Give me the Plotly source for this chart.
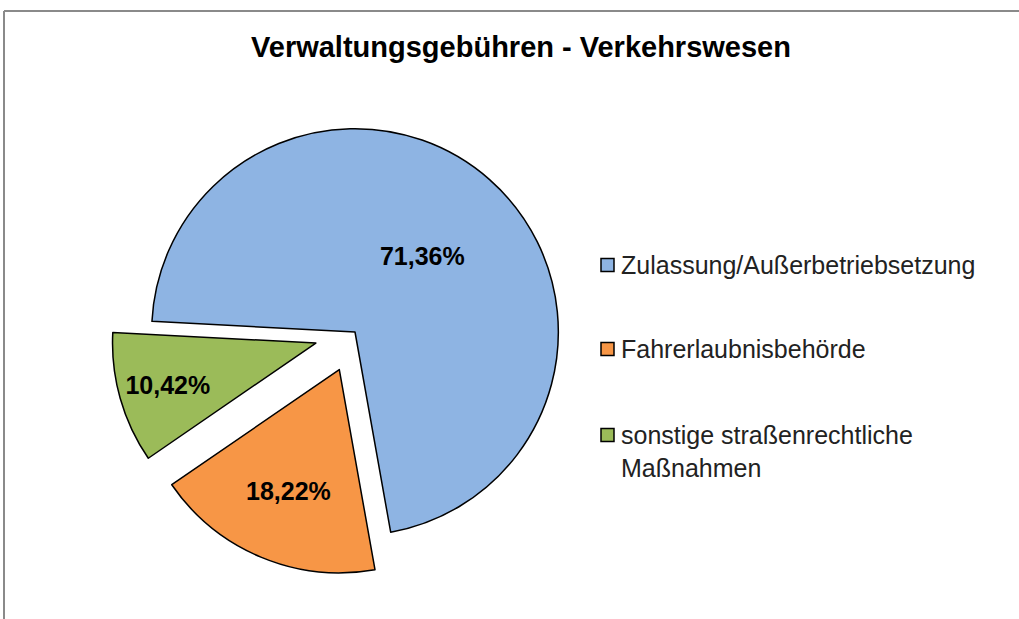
import plotly.graph_objects as go

labels = ["Zulassung/Außerbetriebsetzung", "Fahrerlaubnisbehörde", "sonstige straßenrechtliche<br>Maßnahmen"]
values = [71.36, 18.22, 10.42]
colors = ["#8EB4E3", "#F79646", "#9BBB59"]
pulls = [0, 0.2, 0.2]

W, H = 1019, 619
texts = [f"{v:.2f}".replace(".", ",") + "%" for v in values]

fig = go.Figure(go.Pie(
    labels=labels,
    values=values,
    text=texts,
    textinfo="text",
    textposition="inside",
    insidetextorientation="horizontal",
    textfont=dict(family="Liberation Sans", size=25, color="black", weight="bold"),
    marker=dict(colors=colors, line=dict(color="black", width=1.5)),
    pull=pulls,
    sort=False,
    direction="clockwise",
    rotation=273,
    domain=dict(x=[111 / W, 599 / W], y=[43 / H, 531 / H]),
    hoverinfo="skip",
    showlegend=False,
))

# manual legend (keeps the Excel-like spacing)
legend_y = [265, 349, 435]
shapes = [
    dict(type="line", xref="paper", yref="paper", x0=4 / W, x1=1, y0=1 - 11 / H, y1=1 - 11 / H,
         line=dict(color="#8a8a8a", width=2)),
    dict(type="line", xref="paper", yref="paper", x0=4 / W, x1=4 / W, y0=0, y1=1 - 11 / H,
         line=dict(color="#8a8a8a", width=2)),
]
annotations = []
for lab, col, yc in zip(labels, colors, legend_y):
    shapes.append(dict(type="rect", xref="paper", yref="paper",
                       x0=601 / W, x1=614 / W, y0=1 - (yc - 6.5) / H, y1=1 - (yc + 6.5) / H,
                       fillcolor=col, line=dict(color="black", width=1.5)))
    annotations.append(dict(text=lab, xref="paper", yref="paper", x=619 / W, y=1 - (yc - 16.5) / H,
                            xanchor="left", yanchor="top", align="left", showarrow=False,
                            font=dict(family="Liberation Sans", size=25, color="#222")))

fig.update_layout(
    width=W, height=H,
    margin=dict(l=0, r=0, t=0, b=0),
    paper_bgcolor="white",
    plot_bgcolor="white",
    title=dict(text="<b>Verwaltungsgebühren - Verkehrswesen</b>", x=521 / W, xanchor="center",
               y=1 - 47 / H, yanchor="middle",
               font=dict(family="Liberation Sans", size=29, color="black")),
    shapes=shapes,
    annotations=annotations,
)

fig.write_html("out.html", config={"displayModeBar": False},
               post_script="document.body.style.margin='0';")
